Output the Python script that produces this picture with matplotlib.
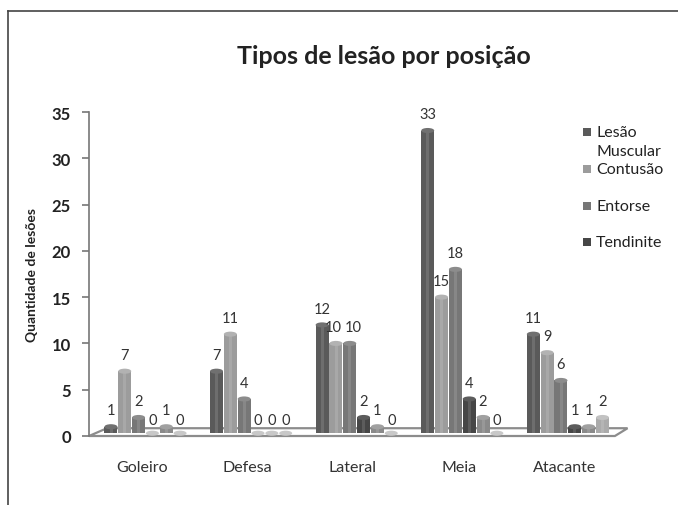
import matplotlib
matplotlib.use("Agg")
import matplotlib.pyplot as plt
from matplotlib.patches import Rectangle, Ellipse, Polygon
from matplotlib.lines import Line2D

plt.rcParams['font.family'] = ['Lato', 'DejaVu Sans']

positions = ["Goleiro", "Defesa", "Lateral", "Meia", "Atacante"]
legend_names = ["Lesão", "Contusão", "Entorse", "Tendinite"]
lesao_muscular = [1, 7, 12, 33, 11]
contusao = [7, 11, 10, 15, 9]
entorse = [2, 4, 10, 18, 6]
tendinite = [0, 0, 2, 4, 1]
outro1 = [1, 0, 1, 2, 1]
outro2 = [0, 0, 0, 0, 2]
series = [lesao_muscular, contusao, entorse, tendinite, outro1, outro2]
colors = ["#5a5a5a", "#9c9c9c", "#777777", "#464646", "#8a8a8a", "#ababab"]
cap_colors = ["#707070", "#b2b2b2", "#8c8c8c", "#5c5c5c", "#a0a0a0", "#c2c2c2"]

fig = plt.figure(figsize=(6.78, 5.06), dpi=100)
ax = fig.add_axes([89 / 678, 69 / 506, 528 / 678, 324 / 506])

bw = 0.131
shift = 0.035
cap_h = 0.55
n = len(series)
for s, vals in enumerate(series):
    for i, v in enumerate(vals):
        x = i + shift + (s - 2.5) * bw
        if v > 0:
            ax.add_patch(Rectangle((x - bw / 2 + 0.004, 0.3), bw - 0.008, v - 0.3,
                                   facecolor=colors[s], edgecolor="none", zorder=3))
            # soft highlight to suggest a cylinder
            ax.add_patch(Rectangle((x - bw * 0.1, 0.3), bw * 0.22, v - 0.3,
                                   facecolor="white", alpha=0.12,
                                   edgecolor="none", zorder=3.5))
        ax.add_patch(Ellipse((x, max(v, 0.3)), bw - 0.008, cap_h,
                             facecolor=cap_colors[s] if v > 0 else "#c8c8c8",
                             edgecolor="none", zorder=4))
        # spread two-digit labels of neighbouring bars of equal height
        dx = 0
        if s + 1 < n and v >= 10 and abs(series[s + 1][i] - v) < 1.5:
            dx -= 0.03
        if s > 0 and v >= 10 and abs(series[s - 1][i] - v) < 1.5:
            dx += 0.03
        ax.text(x + dx, v + 1.0, str(v), ha="center", va="bottom",
                fontsize=10.5, color="#333333", zorder=5)

# floor
floor = Polygon([(0, 0), (0.996, 0), (1.02, 0.024), (0.034, 0.024)],
                closed=True, transform=ax.transAxes, facecolor="white",
                edgecolor="#8c8c8c", lw=1.6, zorder=1, clip_on=False)
ax.add_patch(floor)

ax.set_xlim(-0.5, 4.5)
ax.set_ylim(0, 35)
ax.set_yticks(range(0, 36, 5))
ax.set_xticks(range(len(positions)))
ax.set_xticklabels(positions)
for sp in ["top", "right", "bottom"]:
    ax.spines[sp].set_visible(False)
ax.spines["left"].set_color("#777777")
ax.spines["left"].set_linewidth(1.2)
ax.tick_params(axis="y", length=5, width=1.2, color="#777777", pad=8,
               labelsize=12, labelcolor="#222222")
ax.tick_params(axis="x", length=0, pad=17, labelsize=11.5, labelcolor="#333333")
for lab in ax.get_yticklabels():
    lab.set_fontweight("bold")
ax.set_ylabel("Quantidade de lesões", fontsize=10, fontweight="bold",
              color="#222222", labelpad=10)

fig.text(384 / 678, 1 - 57 / 506, "Tipos de lesão por posição", ha="center",
         va="center", fontsize=18, fontweight="bold", color="#222222")

# legend (first four series), drawn by hand to match the wrapped label
leg_y = [133, 170, 207, 243]
for k, name in enumerate(legend_names):
    yk = 1 - leg_y[k] / 506
    fig.add_artist(Rectangle((583 / 678, yk - 4 / 506), 8 / 678, 8 / 506,
                             transform=fig.transFigure, facecolor=colors[k],
                             edgecolor="none"))
    fig.text(596 / 678, yk, name, ha="left", va="center", fontsize=11.5,
             color="#222222")
fig.text(596 / 678, 1 - 152 / 506, "Muscular", ha="left", va="center",
         fontsize=11.5, color="#222222")

# outer border
fig.add_artist(Line2D([8 / 678, 8 / 678], [0, 1 - 12 / 506], color="#444444", lw=1.2))
fig.add_artist(Line2D([8 / 678, 1], [1 - 12 / 506, 1 - 12 / 506], color="#444444", lw=1.2))

fig.savefig("out.png", dpi=100)
